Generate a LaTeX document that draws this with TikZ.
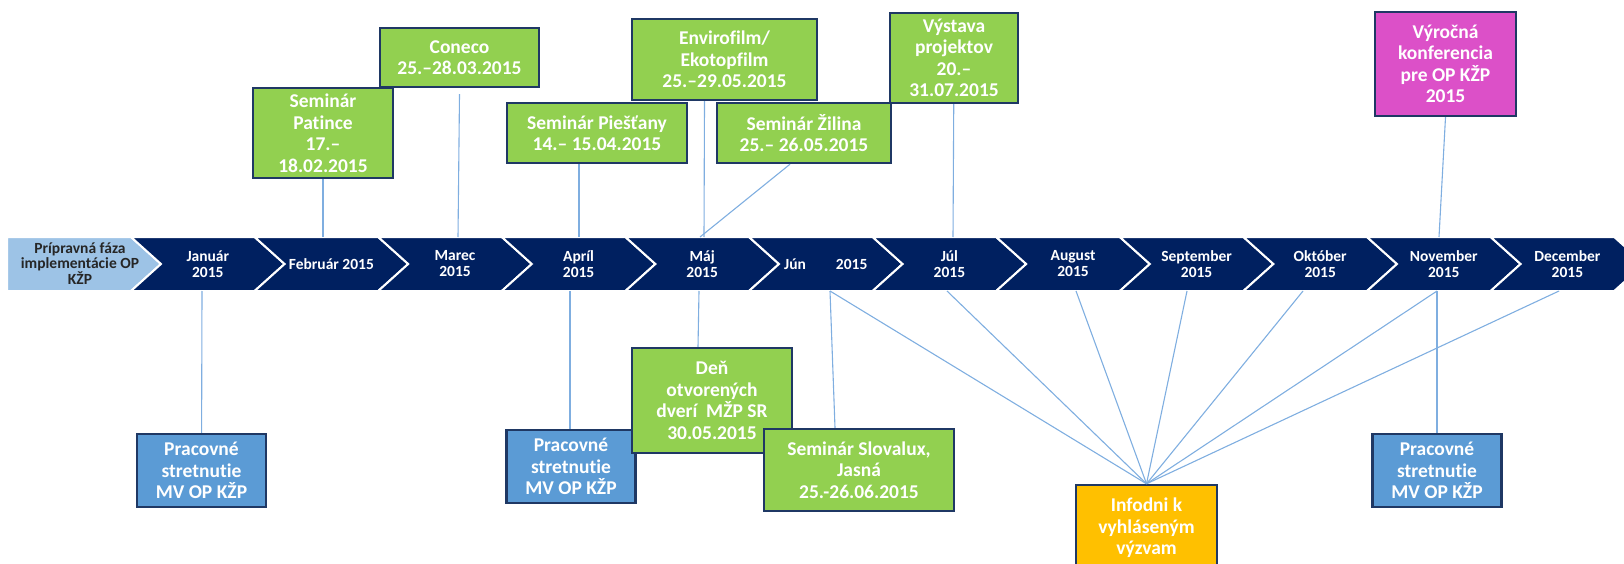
\documentclass[tikz,border=0pt]{standalone}
\usepackage{fontspec}
\setmainfont{Carlito}[Ligatures=NoCommon]
\definecolor{bandnavy}{HTML}{002060}
\definecolor{preplight}{HTML}{9DC3E6}
\definecolor{evgreen}{HTML}{92D050}
\definecolor{mvblue}{HTML}{5B9BD5}
\definecolor{confpink}{HTML}{DC50C8}
\definecolor{infoorange}{HTML}{FFC000}
\definecolor{boxline}{HTML}{1F3864}
\definecolor{linkblue}{HTML}{7FAEE0}
\newcommand\evfont{\bfseries\fontsize{19.5}{21.5}\selectfont}
\newcommand\monthfont{\bfseries\fontsize{15.5}{16}\selectfont}
\begin{document}
\begin{tikzpicture}[x=1pt,y=-1pt,
  event/.style={draw=boxline,line width=2.4pt,fill=evgreen,text=white,font=\evfont,align=center,inner sep=0pt},
  meeting/.style={event,fill=mvblue,minimum width=129pt,minimum height=73pt},
  month/.style={text=white,font=\monthfont,align=center,inner sep=0pt},
  link/.style={linkblue,line width=1.1pt}]
\useasboundingbox (0,0) rectangle (1624,564);
%\draw[very thin,color=gray,step=50] (0,0) grid (1624,564);
% time band
\fill[preplight,draw=white,line width=2pt] (7,237) -- (131,237) -- (161,264) -- (131,291) -- (7,291) -- cycle;
\node[month,text=black!85,font=\bfseries\fontsize{15.5}{15}\selectfont] (prep) at (80,264) {Prípravná fáza\\implementácie OP\\KŽP};
\foreach \i/\lab in {1/{Január\\2015},2/{Február 2015},3/{Marec\\2015},4/{Apríl\\2015},5/{Máj\\2015},6/{Jún\hspace{30pt}2015},
  7/{Júl\\2015},8/{August\\2015},9/{September\\2015},10/{Október\\2015},11/{November\\2015},12/{December\\2015}}{
  \pgfmathsetmacro\xa{131+123.6*(\i-1)}
  \pgfmathsetmacro\xb{131+123.6*\i}
  \fill[bandnavy,draw=white,line width=2pt] (\xa,237) -- (\xb,237) -- (\xb+30,264) -- (\xb,291) -- (\xa,291) -- (\xa+30,264) -- cycle;
  \node[month] (m\i) at ({(\xa+\xb)/2+15},264) {\lab};
}
% points on the band
\coordinate (t-feb) at (323,237);
\coordinate (t-mar) at (458,237);
\coordinate (t-apr) at (579,237);
\coordinate (t-maj) at (704,237);
\coordinate (t-maj2) at (700,237);
\coordinate (t-jul) at (953,237);
\coordinate (t-nov) at (1439,237);
\coordinate (b-jan) at (202,291);
\coordinate (b-apr) at (570,291);
\coordinate (b-maj) at (699,291);
\coordinate (b-jun) at (830,291);
\coordinate (b-jul) at (947,291);
\coordinate (b-aug) at (1076,291);
\coordinate (b-sep) at (1187,291);
\coordinate (b-okt) at (1303,291);
\coordinate (b-nov) at (1437,291);
\coordinate (b-dec) at (1559,291);
% events above
\node[event,minimum width=140pt,minimum height=90pt] (patince) at (323,133) {Seminár\\Patince\\17.–\\18.02.2015};
\node[event,minimum width=159pt,minimum height=59pt] (coneco) at (459.5,57.5) {Coneco\\25.–28.03.2015};
\node[event,minimum width=180pt,minimum height=60pt] (piestany) at (597,133) {Seminár Piešťany\\14.– 15.04.2015};
\node[event,minimum width=185pt,minimum height=81pt] (envirofilm) at (724.5,59.5) {Envirofilm/\\Ekotopfilm\\25.–29.05.2015};
\node[event,minimum width=174pt,minimum height=60pt] (zilina) at (804,133) {Seminár Žilina\\25.– 26.05.2015};
\node[event,minimum width=128pt,minimum height=90pt] (vystava) at (954,58) {Výstava\\projektov\\20.–\\31.07.2015};
\node[event,fill=confpink,minimum width=141pt,minimum height=104pt] (konferencia) at (1445.5,64) {Výročná\\konferencia\\pre OP KŽP\\2015};
% events below
\node[meeting] (mv1) at (201.5,470.5) {Pracovné\\stretnutie\\MV OP KŽP};
\node[meeting] (mv2) at (571,466.5) {Pracovné\\stretnutie\\MV OP KŽP};
\node[event,minimum width=160pt,minimum height=105pt] (den) at (712,400.5) {Deň\\otvorených\\dverí~ MŽP SR\\30.05.2015};
\node[event,minimum width=190pt,minimum height=82pt] (slovalux) at (859,470) {Seminár Slovalux,\\Jasná\\25.-26.06.2015};
\node[meeting] (mv3) at (1437,470.5) {Pracovné\\stretnutie\\MV OP KŽP};
\node[event,fill=infoorange,minimum width=141pt,minimum height=86pt] (infodni) at (1146.5,528) {Infodni k\\vyhláseným\\výzvam};
% links
\draw[link] (patince) -- (t-feb);
\draw[link] ([yshift=-6pt]coneco.south) -- (t-mar);
\draw[link] (piestany.south -| t-apr) -- (t-apr);
\draw[link] ([xshift=-20pt]envirofilm.south) -- (t-maj);
\draw[link] ([xshift=-14pt]zilina.south) -- (t-maj2);
\draw[link] (vystava) -- (t-jul);
\draw[link] (konferencia.south) -- (t-nov);
\draw[link] (b-jan) -- (mv1);
\draw[link] (b-apr) -- (mv2.north -| b-apr);
\draw[link] (b-maj) -- ([xshift=-14pt]den.north);
\draw[link] (b-jun) -- ([xshift=-24pt]slovalux.north);
\draw[link] (b-nov) -- (mv3);
\draw[link] (b-jun) -- (infodni.north);
\draw[link] (b-jul) -- (infodni.north);
\draw[link] (b-aug) -- (infodni.north);
\draw[link] (b-sep) -- (infodni.north);
\draw[link] (b-okt) -- (infodni.north);
\draw[link] (b-nov) -- (infodni.north);
\draw[link] (b-dec) -- (infodni.north);
\end{tikzpicture}
\end{document}
